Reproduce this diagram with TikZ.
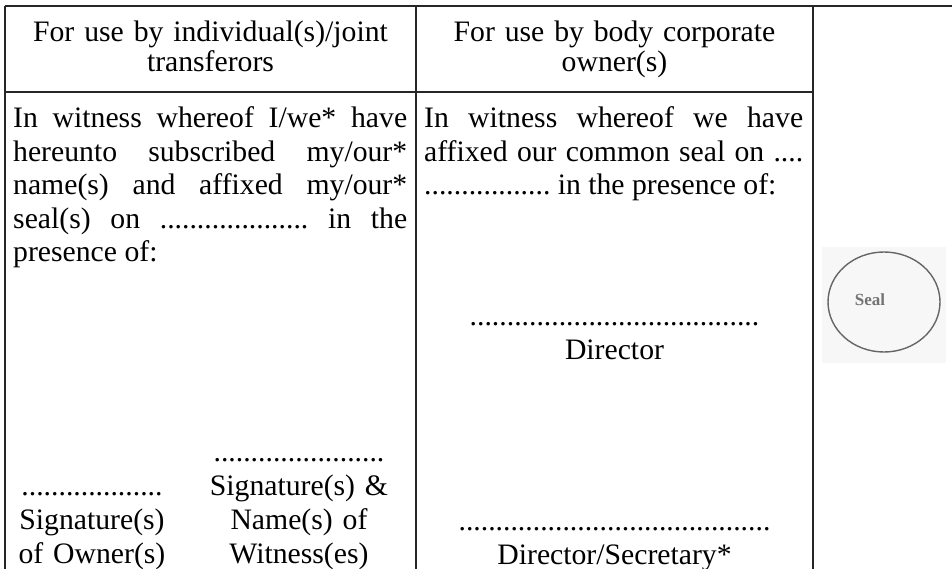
\documentclass[tikz,border=0pt]{standalone}
\usepackage{fontspec}
\setmainfont{Liberation Serif}
\usetikzlibrary{shapes.geometric}
\begin{document}
\frenchspacing
\begin{tikzpicture}[x=1pt,y=-1pt,
  rule/.style={line width=1.2pt,black!85},
  head/.style={font=\fontsize{29.7}{30}\selectfont,text width=390pt,align=center,anchor=base,inner sep=0pt},
  clause/.style={font=\fontsize{29.7}{33.5}\selectfont,align=justify,anchor=base west,inner sep=0pt,
    execute at begin node={\tolerance=10000\hbadness=10000\hyphenpenalty=10000}},
  sign/.style={font=\fontsize{29.7}{34.3}\selectfont,text width=360pt,align=center,anchor=base,inner sep=0pt}]
  \useasboundingbox (0,0) rectangle (952,569);
  % ruling of the form
	\draw [rule] (5,6) -- (952,6);
	\draw [rule] (5,92) -- (813,92);
	\draw [rule] (5,6) -- (5,569);
	\draw [rule] (416,6) -- (416,569);
	\draw [rule] (813,6) -- (813,569);
  % headings
	\node [head] (indhead) at (210.5,42) {For use by individual(s)/joint\\transferors};
	\node [head] (corphead) at (614.5,42) {For use by body corporate\\owner(s)};
  % witness clauses
	\node [clause,text width=394pt] (indtext) at (13,128) {In witness whereof I/we* have\linebreak hereunto subscribed my/our*\linebreak name(s) and affixed my/our*\linebreak seal(s) on .................... in the\linebreak presence of:};
	\node [clause,text width=379pt] (corptext) at (424,128) {In witness whereof we have\linebreak affixed our common seal on ....\linebreak ................. in the presence of:};
  % signature lines
	\node [sign] (ownsig) at (92,495) {...................\\Signature(s)\\of Owner(s)};
	\node [sign] (witsig) at (299,461) {.......................\\Signature(s) \&\\Name(s) of\\Witness(es)};
	\node [sign] (dirsig) at (614.5,325) {.......................................\\Director};
	\node [sign] (secsig) at (614.5,530) {..........................................\\Director/Secretary*};
  % seal
	\node [fill=black!3,minimum width=124pt,minimum height=116pt,inner sep=0pt] (sealbg) at (884,305) {};
	\node [draw=black!60,line width=1.4pt,ellipse,minimum width=112pt,minimum height=100pt] (seal) at (884,302) {};
	\node [text=black!55,font=\fontsize{17}{17}\bfseries] (sealtxt) at (870,300) {Seal};
\end{tikzpicture}
\end{document}
